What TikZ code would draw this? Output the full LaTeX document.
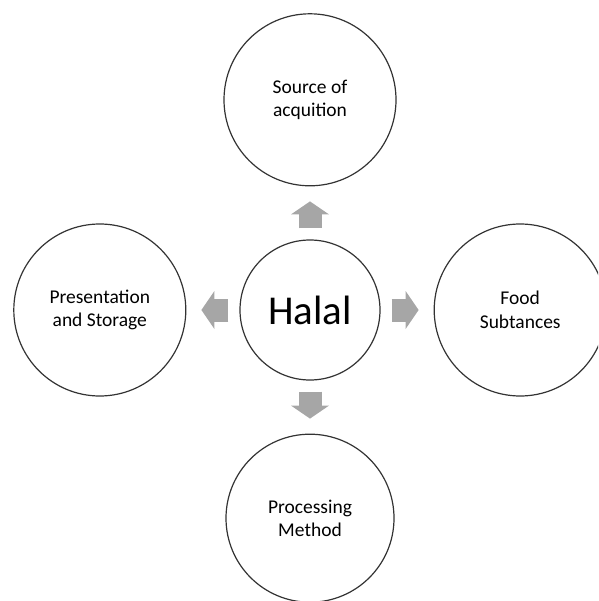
\documentclass[tikz,border=0pt]{standalone}
\usepackage{fontspec}
\setmainfont{Carlito}
\usetikzlibrary{positioning,arrows.meta}
\definecolor{ringline}{HTML}{333333}
\definecolor{arrowgray}{HTML}{A6A6A6}

\begin{document}
\begin{tikzpicture}[x=1pt,y=-1pt]
\tikzstyle{hub}=[circle, draw=ringline, line width=1.2pt, minimum size=140pt, inner sep=0pt, font=\fontsize{41}{44}\selectfont]
\tikzstyle{topic}=[circle, draw=ringline, line width=1.2pt, minimum size=172pt, inner sep=0pt, align=center, font=\fontsize{19.5}{23.5}\selectfont, node distance=53pt]
\tikzstyle{blockarrow}=[draw=arrowgray, line width=23pt, shorten <=11pt, shorten >=15pt, -{Triangle[length=13pt, width=38pt, line width=0pt, fill=arrowgray]}]
\useasboundingbox (0,0) rectangle (598,601);
\clip (0,0) rectangle (598,601);
  \node[hub] (halal) at (310,310) {Halal};
  \node[topic] (source) [above=of halal] {Source of\\acquition};
  \node[topic] (food) [right=of halal] {Food\\Subtances};
  \node[topic] (process) [below=of halal, minimum size=168pt] {Processing\\Method};
  \node[topic] (store) [left=of halal] {Presentation\\and Storage};
  \draw[blockarrow] (halal) -- (source);
  \draw[blockarrow] (halal) -- (food);
  \draw[blockarrow] (halal) -- (process);
  \draw[blockarrow] (halal) -- (store);
\end{tikzpicture}
\end{document}
